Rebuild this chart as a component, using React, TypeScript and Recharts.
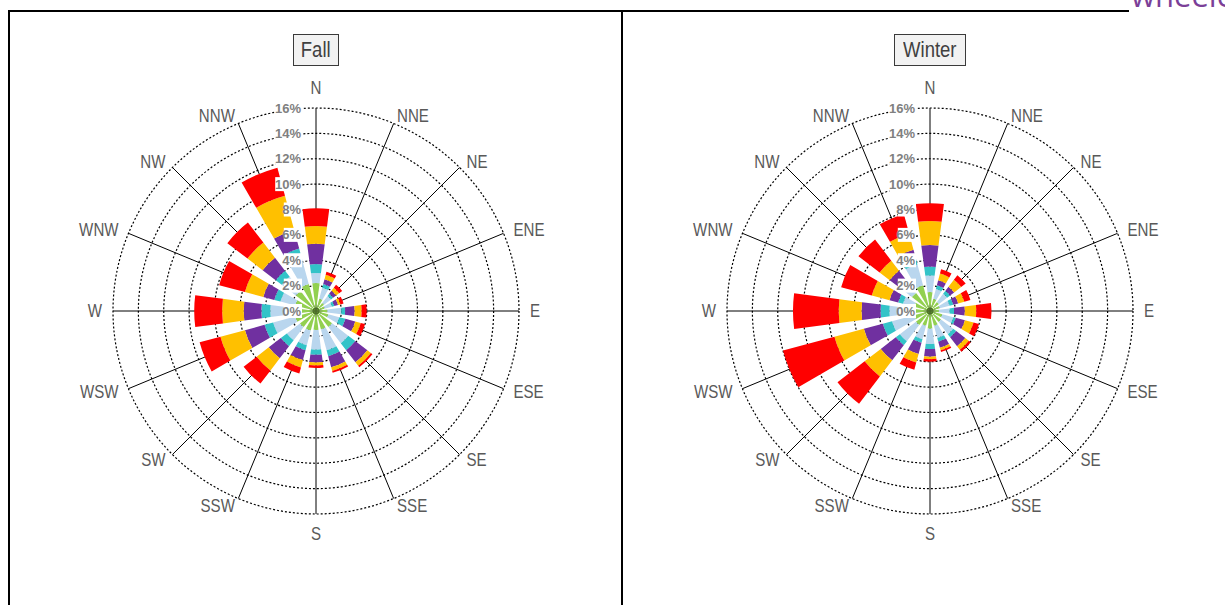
import React from "react";
import {
  RadialBarChart,
  RadialBar,
  PolarGrid,
  PolarAngleAxis,
  PolarRadiusAxis,
} from "recharts";

// compass sectors, clockwise from north
const directions = [
  "N", "NNE", "NE", "ENE", "E", "ESE", "SE", "SSE",
  "S", "SSW", "SW", "WSW", "W", "WNW", "NW", "NNW",
];

// radial ticks (% frequency)
const pctTicks = [0, 2, 4, 6, 8, 10, 12, 14, 16];

// speed classes, lightest winds first
const speedKeys = ["s1", "s2", "s3", "s4", "s5", "s6"];
const speedColors = ["#92D050", "#B9D6EE", "#33C3C8", "#7030A0", "#FFC000", "#FF0000"];

// Fall frequencies (%) per speed class
const fallS1 = [2.2, 1.0, 0.8, 0.7, 0.9, 1.0, 1.6, 1.5, 1.5, 1.6, 1.6, 1.7, 1.5, 1.7, 2.0, 2.2];
const fallS2 = [0.8, 0.9, 0.7, 0.6, 1.1, 0.9, 1.6, 1.7, 1.55, 1.2, 1.3, 1.8, 2.1, 1.2, 1.4, 2.5];
const fallS3 = [0.7, 0.3, 0.2, 0.2, 0.3, 0.5, 0.7, 0.5, 0.4, 0.4, 0.6, 0.7, 0.7, 0.5, 0.6, 0.4];
const fallS4 = [1.6, 0.4, 0.3, 0.3, 0.75, 0.8, 1.2, 0.9, 0.6, 0.8, 1.2, 1.6, 1.4, 0.9, 1.3, 1.5];
const fallS5 = [1.4, 0.35, 0.3, 0.2, 0.55, 0.45, 0.35, 0.3, 0.25, 0.6, 1.2, 2.0, 1.7, 1.5, 1.5, 2.8];
const fallS6 = [1.4, 0.25, 0.3, 0.25, 0.4, 0.35, 0.15, 0.15, 0.2, 0.5, 1.3, 1.7, 2.2, 2.1, 2.0, 2.3];

// Winter frequencies (%) per speed class
const winterS1 = [1.5, 1.0, 0.9, 0.8, 0.7, 1.0, 1.1, 1.2, 1.4, 1.2, 1.4, 1.3, 1.2, 1.3, 1.8, 2.1];
const winterS2 = [1.3, 0.8, 0.8, 0.8, 0.85, 0.9, 1.2, 1.0, 1.2, 1.1, 1.6, 1.8, 2.0, 0.9, 1.2, 1.7];
const winterS3 = [0.7, 0.3, 0.3, 0.3, 0.35, 0.2, 0.3, 0.3, 0.4, 0.3, 0.4, 0.75, 0.7, 0.4, 0.2, 0.5];
const winterS4 = [1.7, 0.4, 0.4, 0.4, 0.85, 0.75, 0.9, 0.5, 0.6, 0.9, 1.5, 1.55, 1.5, 0.7, 0.8, 0.7];
const winterS5 = [1.9, 0.55, 0.7, 0.5, 0.9, 0.7, 0.35, 0.2, 0.2, 0.7, 1.6, 2.4, 1.8, 1.45, 1.0, 1.3];
const winterS6 = [1.4, 0.35, 0.45, 0.5, 1.2, 0.45, 0.2, 0.15, 0.2, 0.6, 2.7, 4.2, 3.6, 2.5, 2.1, 1.6];

const buildRows = (bins: number[][]) =>
  directions.map((dir, i) => {
    const row: Record<string, string | number> = { dir };
    speedKeys.forEach((k, j) => {
      row[k] = bins[j][i];
    });
    return row;
  });

const fallRows = buildRows([fallS1, fallS2, fallS3, fallS4, fallS5, fallS6]);
const winterRows = buildRows([winterS1, winterS2, winterS3, winterS4, winterS5, winterS6]);

const CX = 316;
const CY = 311;
const R = 203;
const FONT = "'Liberation Sans', Arial, sans-serif";

const spokeAngles = directions.map((_, i) => 90 - i * 22.5);
const ringRadii = pctTicks.slice(1).map((t) => (t / 16) * R);

// compass label sits just outside the end of its spoke
function DirTick(props: any) {
  const i = directions.indexOf(props.payload.value);
  const a = ((90 - i * 22.5) * Math.PI) / 180;
  const ux = Math.cos(a);
  const uy = -Math.sin(a);
  const ex = CX + R * ux;
  const ey = CY + R * uy;
  let x = ex;
  let y = ey + uy * 8;
  let anchor = "middle";
  if (Math.abs(ux) < 0.01) {
    y = ey + Math.sign(uy) * 20;
  } else {
    const gap = 10 * Math.pow(Math.abs(ux), 1.5) + 1;
    x = ex + Math.sign(ux) * gap;
    anchor = ux > 0 ? "start" : "end";
  }
  return (
    <text
      x={x}
      y={y}
      transform={`translate(${x} ${y}) scale(0.84 1) translate(${-x} ${-y})`}
      textAnchor={anchor}
      dominantBaseline="central"
      fontFamily={FONT}
      fontSize={18}
      fill="#595959"
    >
      {props.payload.value}
    </text>
  );
}

// % labels sit left of the north spoke on a white patch
function PctTick(props: any) {
  const label = `${props.payload.value}%`;
  const right = props.x - 15;
  const w = label.length * 8.6;
  return (
    <g>
      <rect x={right - w} y={props.y - 7} width={w + 1} height={14} fill="#fff" />
      <text
        x={right}
        y={props.y}
        textAnchor="end"
        dominantBaseline="central"
        fontFamily={FONT}
        fontSize={13}
        fontWeight="bold"
        fill="#808080"
      >
        {label}
      </text>
    </g>
  );
}

function Rose({ rows }: { rows: Record<string, string | number>[] }) {
  return (
    <RadialBarChart
      width={611}
      height={605}
      data={rows}
      layout="centric"
      cx={CX}
      cy={CY}
      innerRadius={0}
      outerRadius={R}
      startAngle={78.75}
      endAngle={-281.25}
      barCategoryGap="17%"
      margin={{ top: 0, right: 0, bottom: 0, left: 0 }}
    >
      <PolarGrid
        gridType="circle"
        radialLines={false}
        polarRadius={ringRadii}
        stroke="#000"
        strokeWidth={1.2}
        strokeDasharray="2 2"
      />
      {speedKeys.map((k, j) => (
        <RadialBar
          key={k}
          dataKey={k}
          stackId="speed"
          fill={speedColors[j]}
          isAnimationActive={false}
        />
      ))}
      <PolarGrid
        gridType="circle"
        polarAngles={spokeAngles}
        polarRadius={[]}
        stroke="#000"
        strokeWidth={1}
      />
      <PolarGrid
        gridType="circle"
        radialLines={false}
        polarRadius={[1.75]}
        stroke="#000"
        strokeWidth={3.5}
      />
      <PolarAngleAxis
        dataKey="dir"
        type="category"
        axisLine={false}
        tickLine={false}
        tick={<DirTick />}
      />
      <PolarRadiusAxis
        angle={90}
        type="number"
        domain={[0, 16]}
        ticks={pctTicks}
        tickCount={9}
        axisLine={false}
        tickLine={false}
        tick={<PctTick />}
      />
    </RadialBarChart>
  );
}

function TitleBox({ text, left, width }: { text: string; left: number; width: number }) {
  return (
    <div
      style={{
        position: "absolute",
        left,
        top: 34,
        width,
        height: 30,
        border: "1px solid #3a3a3a",
        background: "#F2F2F2",
        fontFamily: FONT,
        fontSize: 22,
        color: "#404040",
        textAlign: "center",
        lineHeight: "30px",
      }}
    >
      <span style={{ display: "inline-block", transform: "scaleX(0.84)" }}>{text}</span>
    </div>
  );
}

export default function App() {
  const line = (left: number, top: number, width: number, height: number) => ({
    position: "absolute" as const,
    left,
    top,
    width,
    height,
    background: "#000",
  });
  return (
    <div
      style={{
        position: "absolute",
        left: 0,
        top: 0,
        width: 1225,
        height: 605,
        overflow: "hidden",
        background: "#fff",
      }}
    >
      <div style={{ position: "absolute", left: 0, top: 0 }}>
        <Rose rows={fallRows} />
      </div>
      <div style={{ position: "absolute", left: 614, top: 0 }}>
        <Rose rows={winterRows} />
      </div>
      <div style={line(8, 10, 1121, 2)} />
      <div style={line(8, 10, 2, 600)} />
      <div style={line(621, 10, 2, 600)} />
      <TitleBox text="Fall" left={293} width={44} />
      <TitleBox text="Winter" left={894} width={70} />
      <div
        style={{
          position: "absolute",
          left: 1131,
          top: -26,
          fontFamily: "'Open Sans', sans-serif",
          fontSize: 31,
          lineHeight: "42px",
          color: "#7B3F98",
          whiteSpace: "nowrap",
        }}
      >
        wheeler
      </div>
    </div>
  );
}
